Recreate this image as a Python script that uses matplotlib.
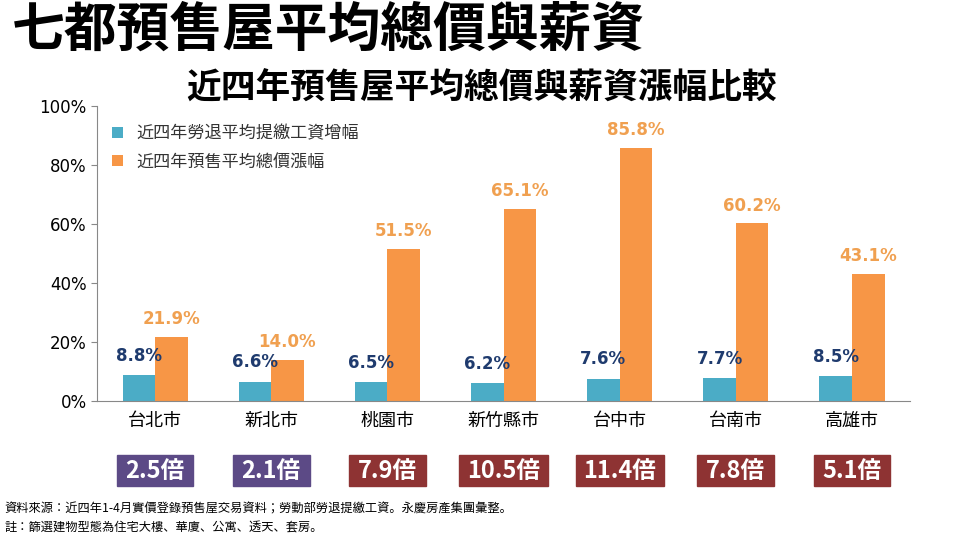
import numpy as np
import matplotlib.pyplot as plt
from matplotlib import font_manager
from matplotlib.patches import Rectangle

cjk = [f.name for f in font_manager.fontManager.ttflist if "CJK" in f.name]
cjk_name = next((n for n in cjk if "TC" in n), cjk[0] if cjk else "DejaVu Sans")
plt.rcParams["font.family"] = [cjk_name, "DejaVu Sans"]

cities = ["台北市", "新北市", "桃園市", "新竹縣市", "台中市", "台南市", "高雄市"]
wage_growth = [8.8, 6.6, 6.5, 6.2, 7.6, 7.7, 8.5]
price_growth = [21.9, 14.0, 51.5, 65.1, 85.8, 60.2, 43.1]
ratios = ["2.5倍", "2.1倍", "7.9倍", "10.5倍", "11.4倍", "7.8倍", "5.1倍"]
ratio_colors = ["#5c4a86", "#5c4a86", "#8e3333", "#8e3333", "#8e3333", "#8e3333", "#8e3333"]

BLUE = "#4bacc6"
ORANGE = "#f79646"

fig = plt.figure(figsize=(9.6, 5.4), dpi=100)
fig.text(0.012, 0.945, "七都預售屋平均總價與薪資", fontsize=38, fontweight="bold", va="center")
fig.text(0.502, 0.837, "近四年預售屋平均總價與薪資漲幅比較", fontsize=25, fontweight="bold",
         ha="center", va="center")

ax = fig.add_axes([0.101, 0.257, 0.847, 0.547])
x = np.arange(len(cities))
w = 0.28
ax.bar(x - w / 2, wage_growth, w, color=BLUE, label="近四年勞退平均提繳工資增幅")
ax.bar(x + w / 2, price_growth, w, color=ORANGE, label="近四年預售平均總價漲幅")
for xi, v in zip(x, wage_growth):
    ax.text(xi - w / 2, v + 3.5, f"{v:.1f}%", ha="center", va="bottom",
            fontsize=12, fontweight="bold", color="#1f3b6e", fontfamily="DejaVu Sans")
for xi, v in zip(x, price_growth):
    ax.text(xi + w / 2, v + 3, f"{v:.1f}%", ha="center", va="bottom",
            fontsize=12, fontweight="bold", color="#f0a050", fontfamily="DejaVu Sans")

ax.set_xlim(-0.5, len(cities) - 0.5)
ax.set_ylim(0, 100)
ax.set_yticks(range(0, 101, 20))
ax.set_yticklabels([f"{t}%" for t in range(0, 101, 20)], fontfamily="DejaVu Sans", fontsize=12)
ax.set_xticks(x)
ax.set_xticklabels(cities, fontsize=13)
ax.tick_params(axis="x", length=0, pad=8)
ax.tick_params(axis="y", length=4, color="#888888")
for s in ["top", "right"]:
    ax.spines[s].set_visible(False)
ax.spines["left"].set_color("#888888")
ax.spines["bottom"].set_color("#888888")
ax.legend(loc="upper left", bbox_to_anchor=(0.0, 0.99), frameon=False, fontsize=12.3,
          handlelength=0.6, handleheight=0.6, labelspacing=0.6, labelcolor="#333333")

# ratio boxes under each city
for xi, r, c in zip(x, ratios, ratio_colors):
    xf = fig.transFigure.inverted().transform(ax.transData.transform((xi, 0)))[0]
    bw = 0.092 if len(r) > 4 else 0.08
    fig.patches.append(Rectangle((xf - bw / 2, 0.1), bw, 0.057, transform=fig.transFigure,
                                 color=c, zorder=1))
    fig.text(xf, 0.128, r, ha="center", va="center", color="white",
             fontsize=17, fontweight="bold")

fig.text(0.005, 0.058, "資料來源：近四年1-4月實價登錄預售屋交易資料；勞動部勞退提繳工資。永慶房產集團彙整。",
         fontsize=8.8, va="center")
fig.text(0.005, 0.022, "註：篩選建物型態為住宅大樓、華廈、公寓、透天、套房。", fontsize=8.8, va="center")

fig.savefig("out.png", dpi=100)
